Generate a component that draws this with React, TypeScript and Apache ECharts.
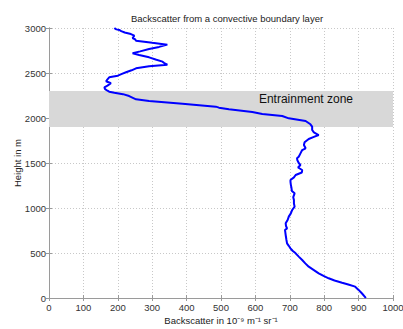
import React, { useEffect, useRef } from "react";
import * as echarts from "echarts";

const heights = [
  0, 10, 50, 90, 126, 150, 170, 195, 219, 245, 274, 310, 348, 385, 422, 460, 496, 525, 552, 580,
  607, 650, 700, 730, 756, 774, 800, 830, 870, 904, 940, 978, 1015, 1050, 1089, 1120, 1163, 1190,
  1219, 1260, 1290, 1311, 1340, 1367, 1395, 1422, 1450, 1478, 1500, 1530, 1552, 1570, 1607, 1644,
  1663, 1700, 1730, 1767, 1790, 1811, 1840, 1867, 1904, 1930, 1967, 1996, 2022, 2044, 2067, 2096,
  2115, 2126, 2159, 2189, 2208, 2244, 2265, 2281, 2292, 2303, 2320, 2341, 2360, 2386, 2408, 2430,
  2452, 2470, 2490, 2508, 2530, 2552, 2574, 2592, 2610, 2626, 2650, 2674, 2700, 2719, 2740, 2767,
  2790, 2815, 2835, 2859, 2875, 2889, 2905, 2915, 2933, 2950, 2965, 2978, 2985, 2993, 3000,
];
const backscatter = [
  921, 919, 910, 900, 890, 870, 852, 830, 813, 798, 784, 770, 755, 745, 736, 726, 717, 708, 702, 697,
  692, 690, 688, 687, 686, 692, 689, 688, 694, 697, 703, 707, 714, 712, 712, 710, 714, 706,
  705, 703, 702, 702, 712, 717, 735, 736, 724, 731, 726, 722, 721, 726, 731, 736,
  746, 741, 743, 755, 770, 784, 770, 765, 765, 760, 746, 697, 678, 620, 591, 523,
  494, 485, 388, 291, 253, 233, 215, 190, 175, 170, 163, 161, 170, 180, 166, 170,
  175, 200, 212, 224, 240, 253, 291, 344, 335, 330, 310, 291, 262, 243, 265, 291,
  320, 344, 300, 253, 250, 243, 246, 248, 238, 220, 210, 204, 196, 192, 190,
];

const titleText = "Backscatter from a convective boundary layer";
const xName = "Backscatter in 10⁻⁹ m⁻¹ sr⁻¹";
const yName = "Height in m";
const zoneLabel = "Entrainment zone";
const zoneBottom = 1900;
const zoneTop = 2300;
const xMin = 0, xMax = 1000, xStep = 100;
const yMin = 0, yMax = 3000, yStep = 500;

const FONT = "'Liberation Sans', Arial, sans-serif";

export default function App() {
  const ref = useRef<HTMLDivElement>(null);
  useEffect(() => {
    document.body.style.margin = "0";
    const chart = echarts.init(ref.current!, null, { renderer: "svg" });
    const axisLine = { show: true, lineStyle: { color: "#9a9a9a", width: 1 } };
    const tick = { show: true, inside: true, length: 3, lineStyle: { color: "#9a9a9a" } };
    const split = { show: true, lineStyle: { type: [1, 2], color: "#c8c8c8", width: 1 } };
    const label = {
      color: "#333", fontSize: 9.5, fontFamily: FONT,
      formatter: (v: number) => String(v),
    };
    chart.setOption({
      animation: false,
      backgroundColor: "#fff",
      title: {
        text: titleText,
        left: 222,
        textAlign: "center",
        top: 8,
        textStyle: { fontSize: 9.5, fontWeight: "normal", color: "#222", fontFamily: FONT },
      },
      grid: { left: 49, right: 10, top: 28, bottom: 31, containLabel: false, outerBoundsMode: "none" },
      xAxis: [
        {
          type: "value", min: xMin, max: xMax, interval: xStep, position: "bottom",
          axisLine, axisTick: tick, splitLine: split,
          axisLabel: { ...label, margin: 4 },
          name: xName, nameLocation: "middle", nameGap: 17, nameMoveOverlap: false,
          nameTextStyle: { color: "#222", fontSize: 9.5, fontFamily: FONT },
        },
        {
          type: "value", min: xMin, max: xMax, interval: xStep, position: "top",
          axisLine, axisTick: tick, splitLine: { show: false }, axisLabel: { show: false },
        },
      ],
      yAxis: [
        {
          type: "value", min: yMin, max: yMax, interval: yStep, position: "left",
          axisLine, axisTick: tick, splitLine: split,
          axisLabel: { ...label, margin: 3 },
          name: yName, nameLocation: "middle", nameGap: 27, nameRotate: 90, nameMoveOverlap: false,
          nameTextStyle: { color: "#222", fontSize: 9.5, fontFamily: FONT },
        },
        {
          type: "value", min: yMin, max: yMax, interval: yStep, position: "right",
          axisLine, axisTick: tick, splitLine: { show: false }, axisLabel: { show: false },
        },
      ],
      series: [
        {
          type: "line",
          data: heights.map((h, i) => [backscatter[i], h]),
          showSymbol: false,
          symbol: "none",
          lineStyle: { color: "#0000ff", width: 2 },
          z: 5,
          markArea: {
            silent: true,
            itemStyle: { color: "#d8d8d8" },
            label: {
              show: true,
              position: "insideTopRight",
              distance: 2,
              offset: [-38, 0],
              color: "#111",
              fontSize: 12,
              fontFamily: FONT,
            },
            data: [[{ yAxis: zoneBottom, name: zoneLabel }, { yAxis: zoneTop }]],
          },
        },
      ],
    });
    return () => chart.dispose();
  }, []);
  return <div ref={ref} style={{ width: 403, height: 329 }} />;
}
